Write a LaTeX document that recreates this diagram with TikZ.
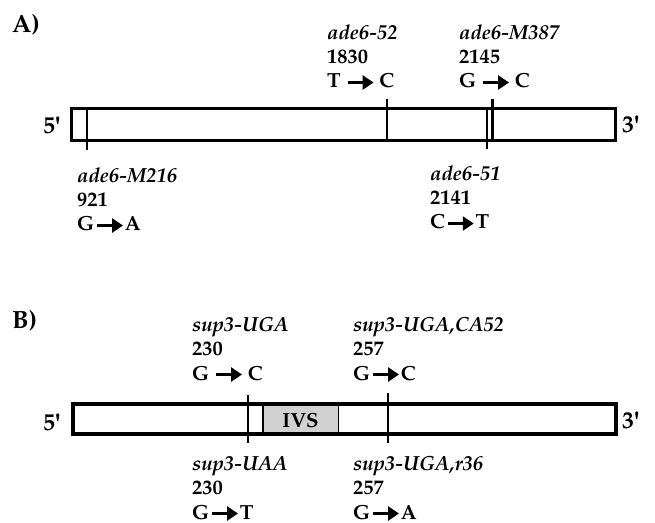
\documentclass[tikz,border=0pt]{standalone}
\usepackage[T1]{fontenc}
\usepackage{mathpazo}
\usetikzlibrary{arrows.meta}
\newcommand\bigarr{\tikz[baseline={(0,-5.5pt)}]\draw[line width=3.8pt,-{Triangle[length=11pt,width=14pt]}] (0,0) -- (26pt,0);}
\newcommand\mutS[2]{#1\hspace{5pt}\bigarr\hspace{4pt}#2}
\newcommand\mutT[2]{#1\hspace{1pt}\bigarr\hspace{0pt}#2}
\newcommand\prm{\textquotesingle}
\begin{document}
\begin{tikzpicture}[x=1bp,y=-1bp,
  lab/.style={anchor=base west,inner sep=0pt,align=left,font=\fontsize{20.5}{24.5}\selectfont\bfseries},
  panel/.style={anchor=base west,inner sep=0pt,font=\fontsize{25}{28}\selectfont\bfseries},
  endlab/.style={anchor=base west,inner sep=0pt,font=\fontsize{24}{28}\selectfont\bfseries},
  gene/.style={draw=black,line width=3.8bp,fill=white},
  site/.style={line width=2.5bp},
  ivs/.style={draw=black,line width=1.2bp,fill=black!18}]
\useasboundingbox (0,0) rectangle (655,523);
% Panel A
\node[panel] (pa) at (12,33) {A)};
\draw[gene] (71.5,108.5) rectangle (615.5,140.5);
\node[endlab] (a5) at (43,134) {5\prm};
\node[endlab] (a3) at (622,133) {3\prm};
\coordinate (m216t) at (87,108) ; \coordinate (m216b) at (87,150);
\draw[site] (m216t) -- (m216b);
\coordinate (m52t) at (387,99); \coordinate (m52b) at (387,141);
\draw[site] (m52t) -- (m52b);
\coordinate (m387t) at (492.5,99); \coordinate (m387b) at (492.5,141);
\draw[site] (m387t) -- (m387b);
\coordinate (m51t) at (487,108); \coordinate (m51b) at (487,149);
\draw[site] (m51t) -- (m51b);
\node[lab] (t52) at (327,88) {\textit{ade6-52}\\1830\\\mutS{T}{C}};
\node[lab] (t387) at (459,88) {\textit{ade6-M387}\\2145\\\mutS{G}{C}};
\node[lab] (t216) at (77,231) {\textit{ade6-M216}\\921\\\mutT{G}{A}};
\node[lab] (t51) at (430,229) {\textit{ade6-51}\\2141\\\mutT{C}{T}};
% Panel B
\node[panel] (pb) at (12,328) {B)};
\draw[gene] (73,404) rectangle (616,434);
\draw[ivs] (263,405.6) rectangle (338.5,432.4);
\node[anchor=base,inner sep=0pt,font=\fontsize{20.5}{22}\selectfont\bfseries] (ivs) at (300.5,427) {IVS};
\draw[gene,fill=none] (73,404) rectangle (616,434);
\node[endlab] (b5) at (43,430) {5\prm};
\node[endlab] (b3) at (622,428) {3\prm};
\coordinate (s230t) at (248,395); \coordinate (s230b) at (248,443);
\draw[site] (s230t) -- (s230b);
\coordinate (s257t) at (388,393); \coordinate (s257b) at (388,443);
\draw[site] (s257t) -- (s257b);
\node[lab] (u1) at (192,380) {\textit{sup3-UGA}\\230\\\mutS{G}{C}};
\node[lab] (u2) at (353,380) {\textit{sup3-UGA,CA52}\\257\\\mutT{G}{C}};
\node[lab] (u3) at (192,519) {\textit{sup3-UAA}\\230\\\mutT{G}{T}};
\node[lab] (u4) at (353,519) {\textit{sup3-UGA,r36}\\257\\\mutT{G}{A}};
\end{tikzpicture}
\end{document}
